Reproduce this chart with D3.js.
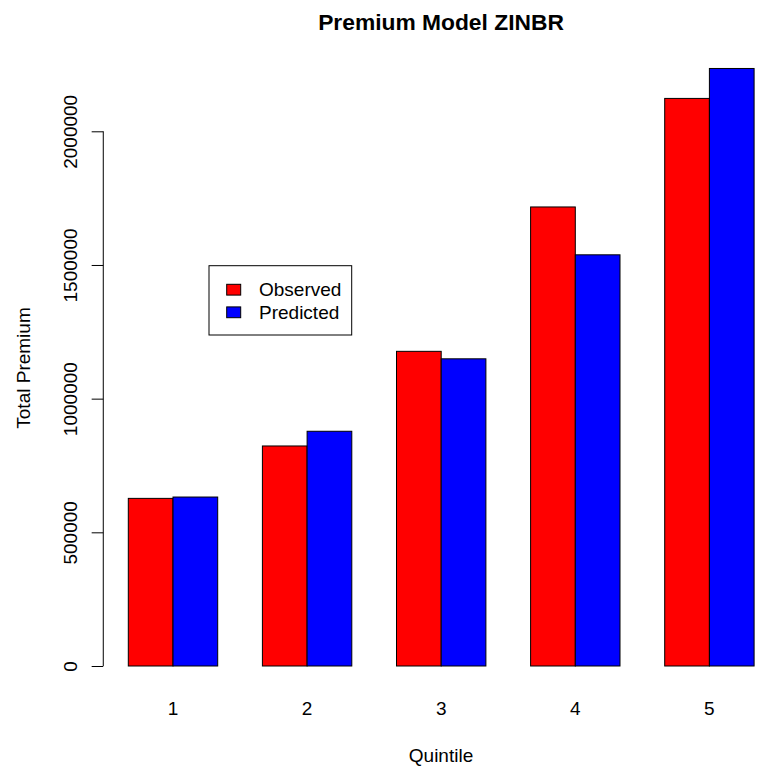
<!DOCTYPE html>
<html>
<head>
<meta charset="utf-8">
<script src="https://cdn.jsdelivr.net/npm/d3@7"></script>
<style>
  html, body { margin: 0; padding: 0; background: #fff; }
  svg { display: block; }
  text { font-family: "Liberation Sans", Arial, Helvetica, sans-serif; fill: #000; }
</style>
</head>
<body>
<script>
// Total premium per quintile
const quintiles = ["1", "2", "3", "4", "5"];
const observed  = [627000, 823000, 1177000, 1717000, 2123000];
const predicted = [632000, 878000, 1149000, 1538000, 2235000];
const seriesNames = ["Observed", "Predicted"];
const seriesColors = ["#ff0000", "#0000ff"];
const yTicks = [0, 500000, 1000000, 1500000, 2000000];

const W = 759, H = 774;
const svg = d3.select("body").append("svg")
  .attr("width", W).attr("height", H);

// Bar coordinate system: each group occupies two unit-wide bars
// preceded by one unit of space, groups start at 1, 4, 7, ...
const x = d3.scaleLinear().domain([1, 15]).range([128.3, 754.1]);
const y = d3.scaleLinear().domain([0, 2000000]).range([666, 131.3]);

const bars = [];
quintiles.forEach((q, i) => {
  bars.push({ q, s: 0, x0: 1 + 3 * i, v: observed[i] });
  bars.push({ q, s: 1, x0: 2 + 3 * i, v: predicted[i] });
});

svg.append("g").selectAll("rect").data(bars).join("rect")
  .attr("x", d => x(d.x0))
  .attr("width", d => x(d.x0 + 1) - x(d.x0))
  .attr("y", d => y(d.v))
  .attr("height", d => y(0) - y(d.v))
  .attr("fill", d => seriesColors[d.s])
  .attr("stroke", "#000")
  .attr("stroke-width", 1);

// Y axis
const axisX = x(0.44);
const yAxis = d3.axisLeft(y).tickValues(yTicks).tickSize(11.6).tickFormat(d3.format("d"));
const gy = svg.append("g").attr("transform", `translate(${axisX},0)`).call(yAxis);
gy.select(".domain").attr("d", `M-0,${y(0)}V${y(2000000)}`).attr("stroke", "#000");
gy.selectAll(".tick line").attr("stroke", "#000");
gy.selectAll(".tick text").remove();
gy.selectAll(".tick").append("text")
  .attr("transform", `translate(${76.7 - axisX},0) rotate(-90)`)
  .attr("text-anchor", "middle")
  .attr("font-size", 19)
  .text(d => d3.format("d")(d));

// Group labels
svg.append("g").selectAll("text").data(quintiles).join("text")
  .attr("x", (d, i) => x(2 + 3 * i))
  .attr("y", 715)
  .attr("text-anchor", "middle")
  .attr("font-size", 19)
  .text(d => d);

// Axis titles
svg.append("text")
  .attr("x", 441).attr("y", 762)
  .attr("text-anchor", "middle").attr("font-size", 19)
  .text("Quintile");
svg.append("text")
  .attr("transform", "translate(30,368) rotate(-90)")
  .attr("text-anchor", "middle").attr("font-size", 19)
  .text("Total Premium");

// Title
svg.append("text")
  .attr("x", 441).attr("y", 29.5)
  .attr("text-anchor", "middle").attr("font-size", 22.8).attr("font-weight", "bold")
  .text("Premium Model ZINBR");

// Legend
const lg = svg.append("g");
lg.append("rect")
  .attr("x", 209).attr("y", 265.7).attr("width", 142.7).attr("height", 69.3)
  .attr("fill", "#fff").attr("stroke", "#000");
const items = lg.selectAll("g.item").data(seriesNames).join("g").attr("class", "item")
  .attr("transform", (d, i) => `translate(0,${289.7 + i * 22.6})`);
items.append("rect")
  .attr("x", 226.7).attr("y", -5.4).attr("width", 14).attr("height", 10.8)
  .attr("fill", (d, i) => seriesColors[i]).attr("stroke", "#000");
items.append("text")
  .attr("x", 259).attr("y", 6.7)
  .attr("font-size", 19)
  .text(d => d);
</script>
</body>
</html>
